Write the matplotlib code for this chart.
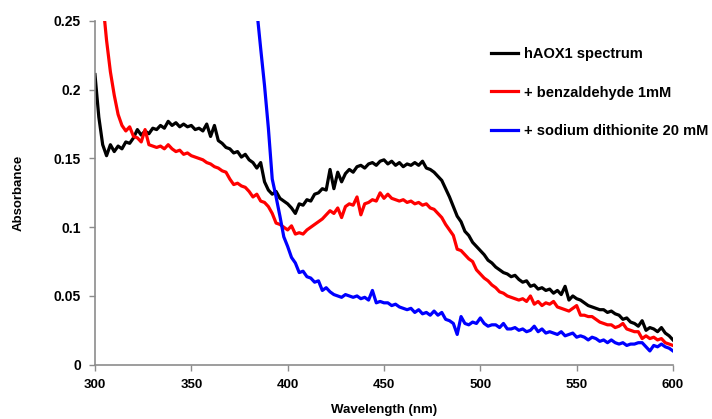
import matplotlib

matplotlib.use("Agg")
import matplotlib.pyplot as plt
import numpy as np

# wavelengths (nm) and absorbance
wl_black = np.arange(300, 601, 2)
abs_black = [
    0.211, 0.180, 0.160, 0.152, 0.160, 0.155, 0.159, 0.157, 0.162, 0.161,
    0.165, 0.171, 0.167, 0.170, 0.168, 0.172, 0.171, 0.174, 0.172, 0.177,
    0.174, 0.176, 0.173, 0.175, 0.173, 0.174, 0.171, 0.172, 0.170, 0.175,
    0.166, 0.174, 0.163, 0.161, 0.158, 0.157, 0.154, 0.155, 0.151, 0.153,
    0.149, 0.147, 0.143, 0.147, 0.133, 0.127, 0.124, 0.126, 0.121, 0.119,
    0.117, 0.114, 0.110, 0.117, 0.116, 0.120, 0.119, 0.124, 0.125, 0.128,
    0.127, 0.142, 0.128, 0.140, 0.133, 0.139, 0.142, 0.140, 0.144, 0.145,
    0.143, 0.146, 0.147, 0.145, 0.148, 0.149, 0.146, 0.148, 0.145, 0.147,
    0.144, 0.146, 0.145, 0.147, 0.145, 0.148, 0.143, 0.142, 0.140, 0.137,
    0.134, 0.128, 0.122, 0.115, 0.108, 0.104, 0.097, 0.094, 0.089, 0.086,
    0.083, 0.080, 0.076, 0.074, 0.071, 0.069, 0.067, 0.066, 0.064, 0.065,
    0.062, 0.060, 0.061, 0.057, 0.058, 0.055, 0.056, 0.054, 0.055, 0.052,
    0.054, 0.051, 0.057, 0.047, 0.050, 0.048, 0.047, 0.045, 0.043, 0.042,
    0.041, 0.040, 0.040, 0.038, 0.039, 0.037, 0.036, 0.033, 0.034, 0.031,
    0.030, 0.028, 0.032, 0.025, 0.027, 0.026, 0.024, 0.027, 0.023, 0.021,
    0.018,
]

wl_red = np.arange(302, 601, 2)
abs_red = [
    0.300, 0.265, 0.236, 0.213, 0.196, 0.182, 0.174, 0.170, 0.173, 0.166,
    0.165, 0.162, 0.171, 0.160, 0.159, 0.158, 0.159, 0.157, 0.160, 0.157,
    0.155, 0.156, 0.153, 0.154, 0.152, 0.151, 0.150, 0.149, 0.147, 0.146,
    0.144, 0.143, 0.141, 0.140, 0.135, 0.131, 0.132, 0.130, 0.129, 0.126,
    0.122, 0.124, 0.119, 0.118, 0.115, 0.110, 0.103, 0.102, 0.100, 0.098,
    0.101, 0.095, 0.096, 0.095, 0.098, 0.100, 0.102, 0.104, 0.106, 0.109,
    0.112, 0.110, 0.114, 0.107, 0.115, 0.117, 0.116, 0.122, 0.109, 0.117,
    0.118, 0.120, 0.119, 0.125, 0.121, 0.124, 0.121, 0.120, 0.119, 0.120,
    0.118, 0.119, 0.117, 0.118, 0.116, 0.117, 0.114, 0.113, 0.110, 0.107,
    0.102, 0.098, 0.094, 0.084, 0.083, 0.080, 0.077, 0.075, 0.069, 0.066,
    0.063, 0.061, 0.058, 0.056, 0.053, 0.052, 0.050, 0.049, 0.048, 0.047,
    0.048, 0.046, 0.050, 0.044, 0.046, 0.043, 0.045, 0.044, 0.046, 0.042,
    0.041, 0.040, 0.039, 0.041, 0.043, 0.036, 0.036, 0.035, 0.035, 0.033,
    0.031, 0.030, 0.029, 0.029, 0.027, 0.028, 0.030, 0.026, 0.025, 0.024,
    0.024, 0.019, 0.021, 0.019, 0.020, 0.018, 0.019, 0.016, 0.015, 0.014,
]

wl_blue = np.arange(380, 601, 2)
abs_blue = [
    0.320, 0.290, 0.258, 0.230, 0.203, 0.172, 0.135, 0.122, 0.108, 0.093,
    0.086, 0.078, 0.074, 0.067, 0.068, 0.064, 0.063, 0.060, 0.061, 0.054,
    0.056, 0.053, 0.051, 0.050, 0.049, 0.051, 0.050, 0.049, 0.050, 0.048,
    0.049, 0.047, 0.054, 0.045, 0.046, 0.045, 0.045, 0.043, 0.044, 0.042,
    0.041, 0.040, 0.041, 0.038, 0.040, 0.037, 0.038, 0.036, 0.039, 0.036,
    0.038, 0.033, 0.032, 0.030, 0.022, 0.035, 0.030, 0.029, 0.031, 0.030,
    0.034, 0.030, 0.028, 0.029, 0.029, 0.027, 0.030, 0.026, 0.026, 0.027,
    0.025, 0.026, 0.024, 0.025, 0.028, 0.024, 0.026, 0.023, 0.024, 0.023,
    0.022, 0.024, 0.021, 0.022, 0.023, 0.020, 0.021, 0.020, 0.018, 0.020,
    0.019, 0.017, 0.018, 0.016, 0.018, 0.016, 0.015, 0.016, 0.014, 0.015,
    0.015, 0.016, 0.016, 0.013, 0.010, 0.014, 0.013, 0.015, 0.013, 0.012,
    0.010,
]

SERIES = [
    (wl_black, abs_black, "black", "hAOX1 spectrum"),
    (wl_red, abs_red, "red", "+ benzaldehyde 1mM"),
    (wl_blue, abs_blue, "blue", "+ sodium dithionite 20 mM"),
]

X_TICKS = [300, 350, 400, 450, 500, 550, 600]
Y_TICKS = [0, 0.05, 0.1, 0.15, 0.2, 0.25]
Y_TICK_LABELS = ["0", "0.05", "0.1", "0.15", "0.2", "0.25"]

plt.rcParams["font.family"] = ["Liberation Sans", "DejaVu Sans"]
plt.rcParams["font.weight"] = "bold"

fig = plt.figure(figsize=(7.12, 4.19), dpi=100)
ax = fig.add_axes([0.1334, 0.1296, 0.8118, 0.8204])

for x, y, color, label in SERIES:
    assert len(x) == len(y), (label, len(x), len(y))
    ax.plot(x, y, color=color, linewidth=2.3, label=label)

ax.set_xlim(300, 600)
ax.set_ylim(0, 0.25)
ax.set_xticks(X_TICKS)
ax.set_yticks(Y_TICKS)
ax.set_yticklabels(Y_TICK_LABELS)
for side in ("top", "right"):
    ax.spines[side].set_visible(False)
for side in ("left", "bottom"):
    ax.spines[side].set_color("#8c8c8c")
    ax.spines[side].set_linewidth(1.2)
ax.tick_params(direction="out", length=4, width=1.0, color="#8c8c8c",
               labelsize=9.5, pad=6)
ax.tick_params(axis="y", labelsize=10)
for t in ax.get_xticklabels() + ax.get_yticklabels():
    t.set_fontweight("bold")

ax.set_xlabel("Wavelength (nm)", fontsize=9.5, fontweight="bold", labelpad=10)
ax.set_ylabel("Absorbance", fontsize=9.5, fontweight="bold", labelpad=21)

leg = ax.legend(loc="upper left", bbox_to_anchor=(0.675, 0.942), frameon=False,
                handlelength=1.85, handletextpad=0.4, labelspacing=1.7,
                fontsize=10.5, borderaxespad=0)
for t in leg.get_texts():
    t.set_fontweight("bold")

fig.savefig("out.png", dpi=100)
